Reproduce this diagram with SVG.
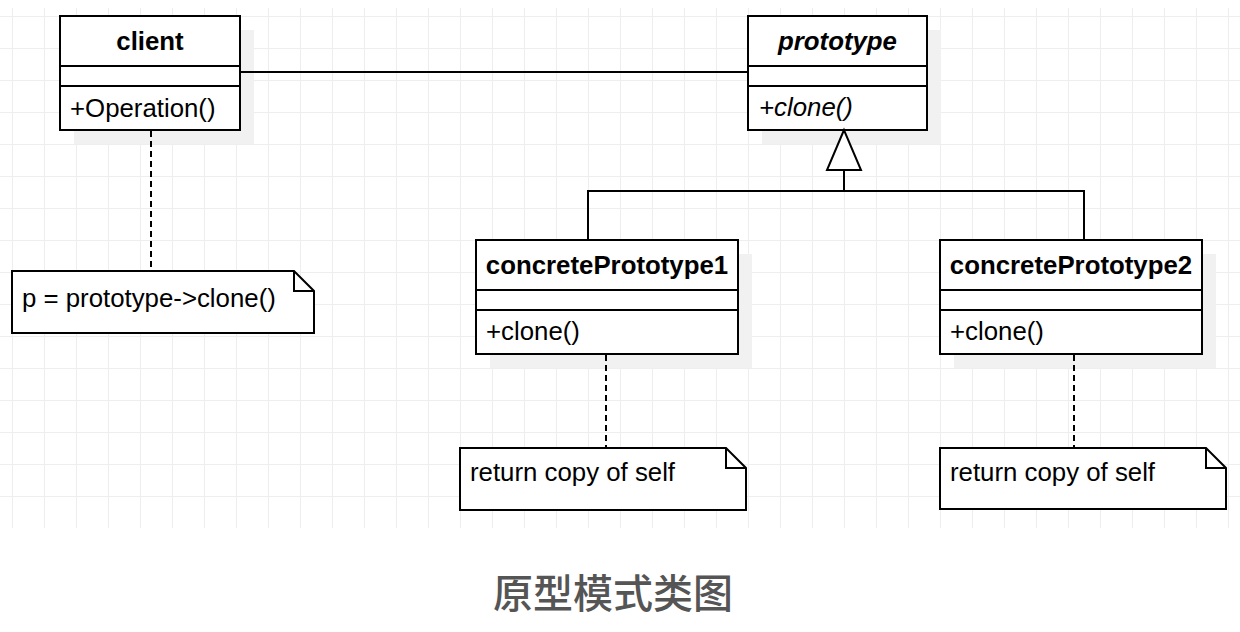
<svg xmlns="http://www.w3.org/2000/svg" width="1240" height="632" viewBox="0 0 1240 632">
<defs>
<pattern id="grid" width="32" height="32" patternUnits="userSpaceOnUse" x="12" y="16">
<path d="M0 0.5 H32 M0.5 0 V32" fill="none" stroke="#eeeeee" stroke-width="1"/>
</pattern>
<style>
.box{fill:#ffffff;stroke:#000000;stroke-width:2}
.shadow{fill:#f1f1f1;stroke:none}
.div{stroke:#000000;stroke-width:2;fill:none}
.line{stroke:#000000;stroke-width:2;fill:none}
.dash{stroke:#000000;stroke-width:2;fill:none;stroke-dasharray:6 4}
.t{font-family:"Liberation Sans",Arial,Helvetica,sans-serif;font-size:25.8px;fill:#000000}
.b{font-weight:bold}
.i{font-style:italic}
.c{text-anchor:middle}
.title{font-family:"Noto Sans CJK SC","Noto Sans",sans-serif;font-size:40px;font-weight:500;fill:#555555;text-anchor:middle}
</style>
</defs>
<rect x="0" y="0" width="1240" height="632" fill="#ffffff"/>
<rect x="0" y="8" width="1240" height="520" fill="url(#grid)"/>

<g id="client">
<rect class="shadow" x="74" y="30" width="180" height="114"/>
<rect class="box" x="60" y="16" width="180" height="114"/>
<path class="div" d="M60 66 H240 M60 86 H240"/>
<text class="t b c" x="150" y="50">client</text>
<text class="t" x="70" y="117">+Operation()</text>
</g>

<g id="prototype">
<rect class="shadow" x="762" y="30" width="179" height="114"/>
<rect class="box" x="748" y="16" width="179" height="114"/>
<path class="div" d="M748 66 H927 M748 86 H927"/>
<text class="t b i c" x="837.5" y="50">prototype</text>
<text class="t i" x="759" y="116">+clone()</text>
</g>

<g id="concretePrototype1">
<rect class="shadow" x="490" y="254" width="262" height="114"/>
<rect class="box" x="476" y="240" width="262" height="114"/>
<path class="div" d="M476 290 H738 M476 310 H738"/>
<text class="t b c" x="607" y="274">concretePrototype1</text>
<text class="t" x="486" y="340">+clone()</text>
</g>

<g id="concretePrototype2">
<rect class="shadow" x="954" y="254" width="262" height="114"/>
<rect class="box" x="940" y="240" width="262" height="114"/>
<path class="div" d="M940 290 H1202 M940 310 H1202"/>
<text class="t b c" x="1071" y="274">concretePrototype2</text>
<text class="t" x="950" y="340">+clone()</text>
</g>

<g id="note-client">
<path class="box" d="M12 271 H294 L314 291 V333 H12 Z"/>
<path class="div" d="M294 271 V291 H314"/>
<text class="t" x="22" y="307">p = prototype-&gt;clone()</text>
</g>

<g id="note-concrete1">
<path class="box" d="M460 448 H726 L746 468 V510 H460 Z"/>
<path class="div" d="M726 448 V468 H746"/>
<text class="t" x="470" y="481">return copy of self</text>
</g>

<g id="note-concrete2">
<path class="box" d="M940 448 H1206 L1226 468 V509 H940 Z"/>
<path class="div" d="M1206 448 V468 H1226"/>
<text class="t" x="950" y="481">return copy of self</text>
</g>

<g id="connectors">
<path class="line" d="M240 72 H748"/>
<path class="line" d="M588 240 V191 H1084 V240 M844 191 V170"/>
<polygon points="844,130 827,170 861,170" fill="#ffffff" stroke="#000000" stroke-width="2"/>
<path class="dash" d="M151 131 V271"/>
<path class="dash" d="M606 355 V448"/>
<path class="dash" d="M1074 355 V448"/>
</g>

<text class="title" x="613" y="608">原型模式类图</text>
</svg>
